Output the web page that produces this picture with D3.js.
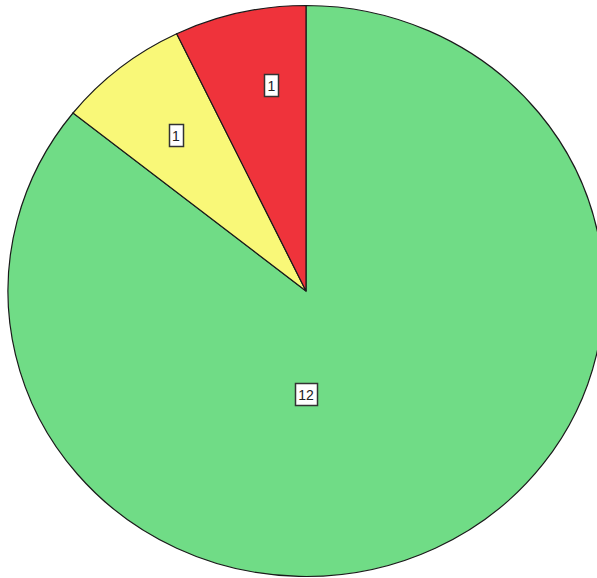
<!DOCTYPE html>
<html>
<head>
<meta charset="utf-8">
<script src="https://cdn.jsdelivr.net/npm/d3@7"></script>
<style>
  body { margin: 0; background: #fff; }
  svg { display: block; }
</style>
</head>
<body>
<svg id="chart" width="597" height="578"></svg>
<script>
// slice data, drawn clockwise from 12 o'clock
var categories = ['A', 'B', 'C'];
var counts = [12, 1, 1];
var colors = ['#70dc86', '#f9f878', '#ef333b'];

// layout
var cx = 306, cy = 291;
var ry = 285.5, rx = 298;
// label placement (fraction of radius, optional angle override)
var labelR = [0.36, 0.70, 0.73];
var labelAngle = [Math.PI, null, 2 * Math.PI - 0.16];

var svg = d3.select('#chart');
var g = svg.append('g')
  .attr('transform', 'translate(' + cx + ',' + cy + ') scale(' + (rx / ry) + ',1)');

var pie = d3.pie().sort(null).value(d => d.value);
var arcs = pie(categories.map((c, i) => ({ name: c, value: counts[i], color: colors[i] })));

var arc = d3.arc().innerRadius(0).outerRadius(ry);

g.selectAll('path')
  .data(arcs)
  .enter()
  .append('path')
  .attr('d', arc)
  .style('fill', d => d.data.color)
  .style('stroke', '#1a1a1a')
  .style('stroke-width', 1.2)
  .attr('vector-effect', 'non-scaling-stroke');

// labels (outside the scaled group so the text is not stretched)
var labels = svg.append('g');
arcs.forEach(function (d, i) {
  var a = labelAngle[i] != null ? labelAngle[i] : (d.startAngle + d.endAngle) / 2;
  var x = cx + Math.sin(a) * rx * labelR[i];
  var y = cy - Math.cos(a) * ry * labelR[i];
  var t = labels.append('text')
    .attr('x', x)
    .attr('y', y + 1)
    .attr('text-anchor', 'middle')
    .attr('dominant-baseline', 'central')
    .style('font-family', 'Liberation Sans, Arial, sans-serif')
    .style('font-size', '14px')
    .style('fill', '#222')
    .text(d.data.value);
  var bb = t.node().getBBox();
  labels.insert('rect', 'text')
    .attr('x', Math.round(bb.x - 3) + 0.5)
    .attr('y', Math.round(y - 11) + 0.5)
    .attr('width', Math.round(bb.width + 6))
    .attr('height', 22)
    .style('fill', '#fff')
    .style('stroke', '#333')
    .style('stroke-width', 1.5);
});
</script>
</body>
</html>
